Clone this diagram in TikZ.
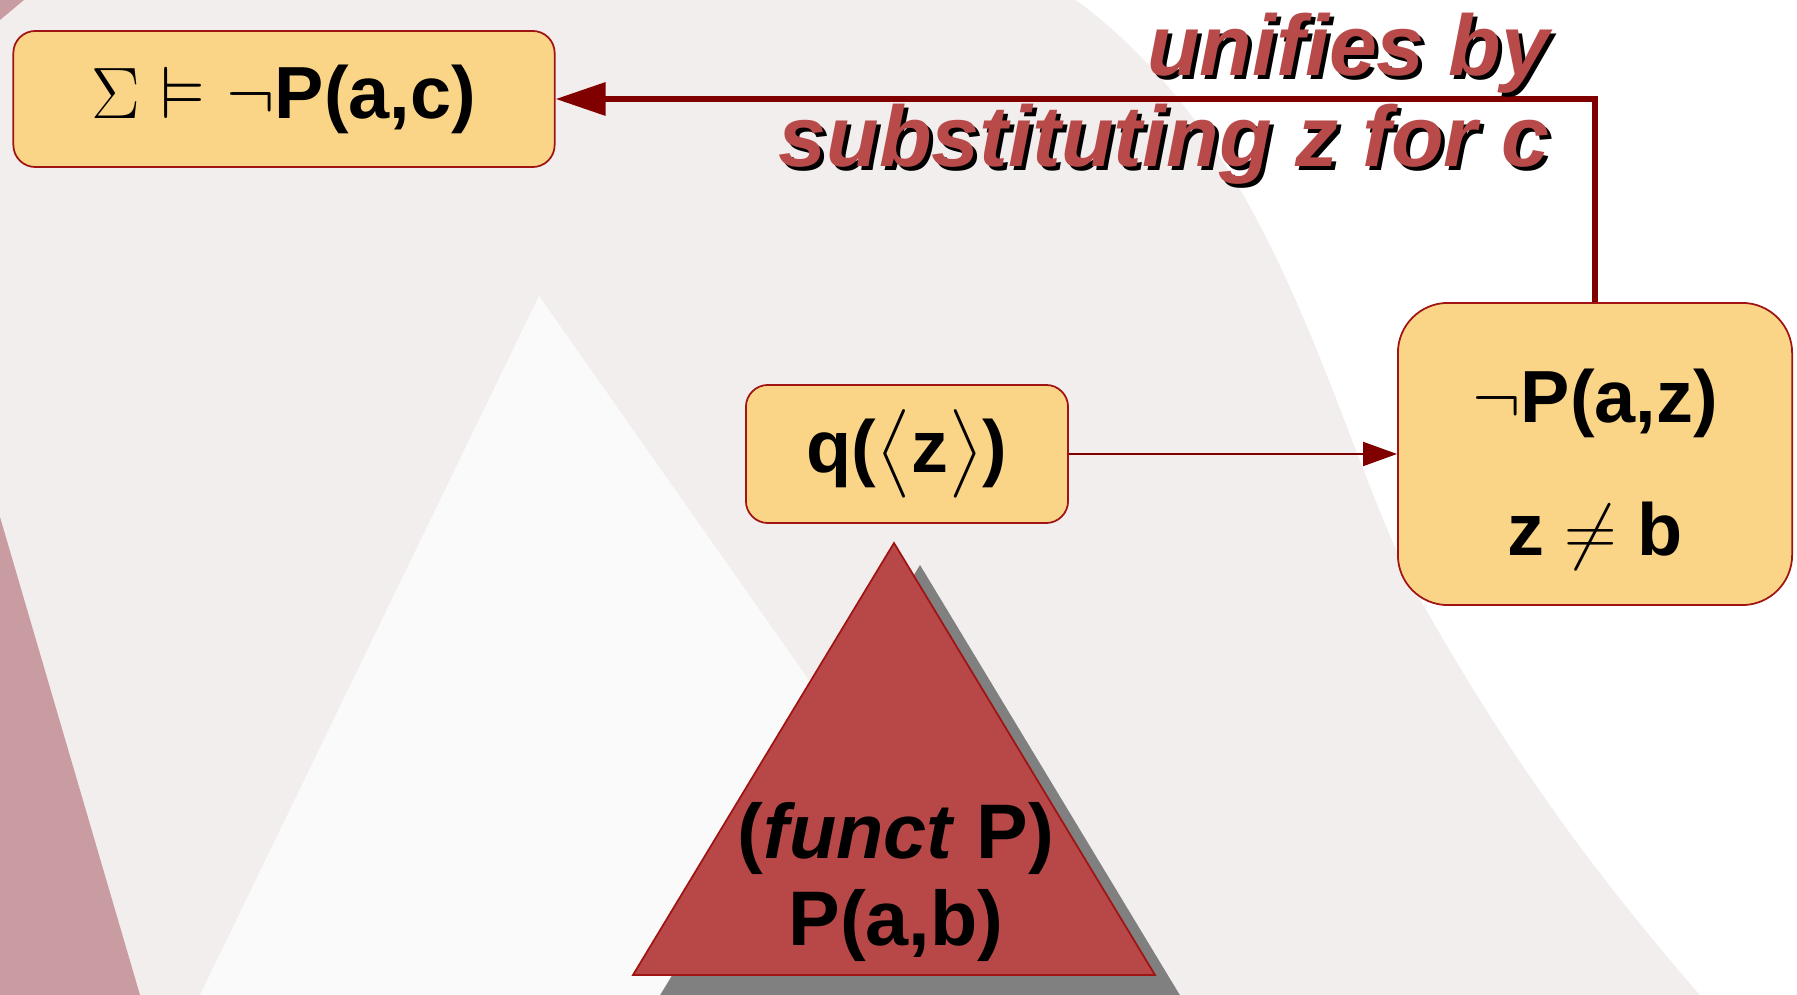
\documentclass[tikz,border=0pt]{standalone}
\usepackage{amsmath}
\usepackage{amssymb}
\usepackage{xcolor}
\usepackage{fontspec}
\setmainfont{Liberation Sans}
\usepackage{tikz}
\usetikzlibrary{positioning}
\usetikzlibrary{arrows.meta}

\definecolor{boxfill}{RGB}{250,213,135}
\definecolor{boxedge}{RGB}{160,20,20}
\definecolor{linkred}{RGB}{128,0,0}
\definecolor{trifill}{RGB}{184,72,72}
\definecolor{labelred}{RGB}{185,74,74}
\definecolor{bgpink}{RGB}{243,238,238}
\definecolor{bgwhite}{RGB}{251,250,250}
\definecolor{bgstrip}{RGB}{200,156,160}

\begin{document}
\begin{tikzpicture}[x=0.01cm, y=-0.01cm]
	\tikzset{
		formula/.style={rectangle, draw=boxedge, line width=0.5pt, fill=boxfill, rounded corners=0.22cm, align=center, font=\bfseries\fontsize{21}{25}\selectfont},
		unifyarrow/.style={draw=linkred, line width=1.8pt, -{Triangle[length=0.5cm, width=0.32cm]}},
		qarrow/.style={draw=linkred, line width=0.6pt, -{Triangle[length=0.34cm, width=0.24cm]}},
		note/.style={align=right, inner sep=0pt, font=\bfseries\itshape\fontsize{24.5}{26}\selectfont}
	}

	% slide background
	\useasboundingbox (0,0) rectangle (1797,995);
	\clip (0,0) rectangle (1797,995);
	\fill[bgpink] (0,0) rectangle (1797,995);
	\fill[white] (1076,0) .. controls (1280,150) and (1330,420) .. (1415,590) .. controls (1510,760) and (1600,880) .. (1700,995) -- (1797,995) -- (1797,0) -- cycle;
	\fill[bgwhite] (539,296) -- (200,995) -- (1030,995) -- cycle;
	\fill[bgstrip] (0,517) -- (140,995) -- (0,995) -- cycle;
	\fill[bgstrip] (0,0) -- (24,0) -- (0,20) -- cycle;

	% the goal
	\node[formula, minimum width=5.41cm, minimum height=1.36cm] (goal) at (284,99) {$\Sigma \vDash \neg$P(a,c)};

	% query and constraint
	\node[formula, minimum width=3.22cm, minimum height=1.38cm] (query) at (907,454) {q($\bigl\langle$z$\bigr\rangle$)};
	\node[formula, minimum width=3.94cm, minimum height=3.02cm, rounded corners=0.5cm] (constraint) at (1595,454) {\rule{0pt}{24pt}$\neg$P(a,z)\\[13pt]z $\neq$ b};

	\draw[qarrow] (query.east) -- (constraint.west);
	\draw[unifyarrow] (constraint.north) |- (goal.east);

	% label with its shadow
	\node[note, text=black, anchor=north east] (unifyshadow) at (1554,16) {unifies by\\substituting z for c};
	\node[note, text=labelred, anchor=north east] (unify) at (1550,12) {unifies by\\substituting z for c};

	% axioms triangle
	\coordinate (apex) at (894,543);
	\coordinate (baseL) at (633,975);
	\coordinate (baseR) at (1155,975);
	\fill[gray] ([shift={(26,22)}]apex) -- ([shift={(26,22)}]baseL) -- ([shift={(26,22)}]baseR) -- cycle;
	\filldraw[fill=trifill, draw=boxedge, line width=0.5pt] (apex) -- (baseL) -- (baseR) -- cycle;
	\node[align=center, font=\bfseries\fontsize{22}{24.5}\selectfont] (axioms) at (896,882) {(\textit{funct} P)\\P(a,b)};
\end{tikzpicture}
\end{document}
